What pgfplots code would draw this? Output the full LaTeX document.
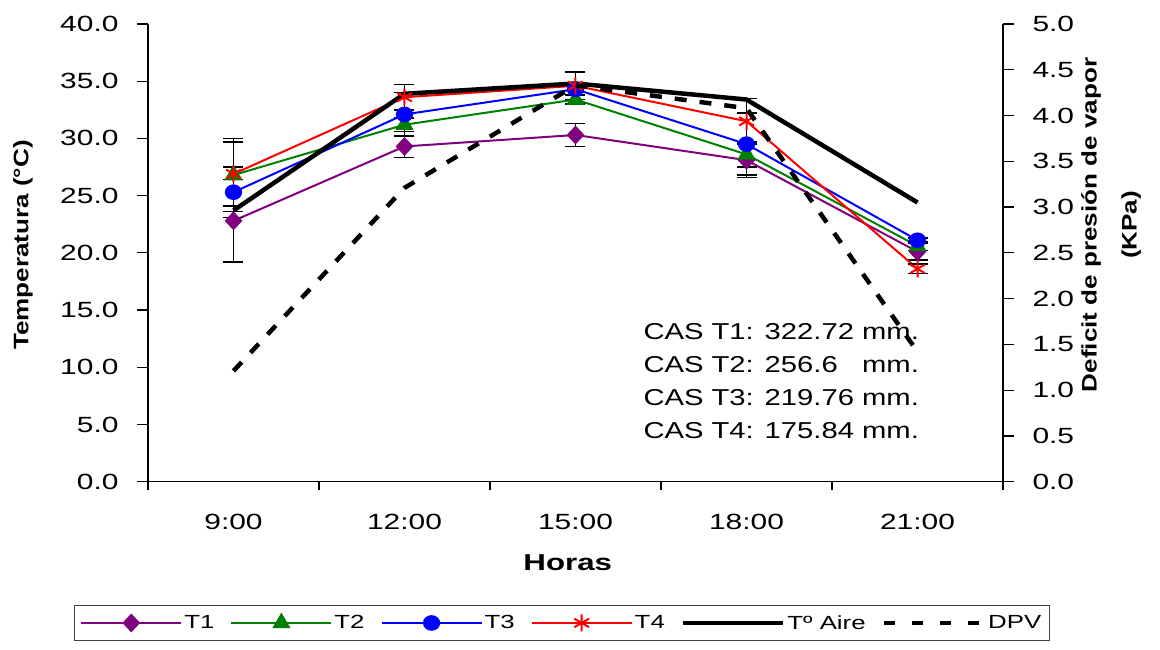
\documentclass[border=0pt]{standalone}
\usepackage{pgfplots}
\pgfplotsset{compat=1.18}
\usepackage{fontspec}
\setmainfont{Liberation Sans}[FakeStretch=1.36]
\newfontfamily\casfont{Liberation Sans}[FakeStretch=1.27]
\newfontfamily\vlabelfont{Liberation Sans}[FakeStretch=1.24]

\definecolor{cT1}{RGB}{128,0,128}
\definecolor{cT2}{RGB}{0,128,0}
\definecolor{cT3}{RGB}{0,0,255}
\definecolor{cT4}{RGB}{255,0,0}

\pgfplotsset{
  base/.style={
    width=855pt, height=457.7pt, scale only axis,
    xmin=0.5, xmax=5.5,
    at={(0pt,0pt)}, anchor=south west,
    tick align=outside,
    /pgf/number format/assume math mode=true,
    ticklabel style={font=\fontsize{22}{26}\selectfont},
    y tick label style={/pgf/number format/fixed, /pgf/number format/fixed zerofill,
      /pgf/number format/precision=1},
    axis line style={line width=1.2pt, black},
    tick style={line width=1.2pt, black},
    major tick length=11pt,
    minor tick length=8pt,
    clip=false,
  },
  errb/.style={
    error bars/y dir=both, error bars/y explicit,
    error bars/error bar style={black, line width=1.6pt, solid},
    error bars/error mark options={black, line width=1.6pt, rotate=90, mark size=10pt, solid},
  },
  s1/.style={cT1, line width=2pt, mark=diamond*, mark size=8pt, mark options={xscale=1.25}},
  s2/.style={cT2, line width=2pt, mark=triangle*, mark size=8.5pt},
  s3/.style={cT3, line width=2pt, mark=*, mark size=6.8pt, mark options={xscale=1.12}},
  s4/.style={cT4, line width=2pt, mark=asterisk, mark size=8.5pt},
  s5/.style={black, line width=4.5pt, mark=none},
  s6/.style={black, line width=4.5pt, dash pattern=on 12pt off 13pt, mark=none},
  wide legend/.style={legend image code/.code={%
    \draw[mark repeat=2, mark phase=2, ##1] plot coordinates {(0pt,0pt) (50pt,0pt) (100pt,0pt)};}},
}

\begin{document}
\begin{tikzpicture}
\useasboundingbox (-148pt,-168.3pt) rectangle (1012pt,481.7pt);

% temperatures, left axis
\begin{axis}[base,
  ymin=0, ymax=40, ytick={0,5,10,15,20,25,30,35,40},
  axis x line*=bottom, axis y line*=left,
  y tick label style={xshift=-15pt},
  xtick={1,2,3,4,5}, xticklabels={9:00,12:00,15:00,18:00,21:00},
  x tick label style={yshift=-18pt},
  major x tick style={draw=none},
  minor xtick={0.5,1.5,2.5,3.5,4.5,5.5},
  xlabel={Horas},
  xlabel style={font=\fontsize{23}{26}\selectfont\bfseries,
    at={(axis description cs:0.491,-0.1776)}, anchor=center},
  ylabel={Temperatura (°C)},
  ylabel style={font=\vlabelfont\fontsize{21}{24}\selectfont\bfseries,
    at={(axis description cs:-0.1462,0.517)}, anchor=center},
]
\addplot[s1, errb] coordinates {
  (1,22.8) +- (0,3.6) (2,29.3) +- (0,0.95) (3,30.3) +- (0,1.0) (4,28.1) +- (0,1.5) (5,20.1) +- (0,0.7)};
\addplot[s2, errb] coordinates {
  (1,26.8) +- (0,3.2) (2,31.2) +- (0,0.6) (3,33.4) +- (0,0.4) (4,28.6) +- (0,1.1) (5,20.6) +- (0,0.4)};
\addplot[s3, errb] coordinates {
  (1,25.3) +- (0,2.2) (2,32.1) +- (0,1.9) (3,34.3) +- (0,0.5) (4,29.5) +- (0,2.7) (5,21.1) +- (0,0.2)};
\addplot[s4, errb] coordinates {
  (1,26.9) +- (0,2.8) (2,33.6) +- (0,1.1) (3,34.6) +- (0,1.2) (4,31.5) +- (0,2.0) (5,18.6) +- (0,0.4)};
\addplot[s5] coordinates {(1,23.7) (2,33.9) (3,34.8) (4,33.4) (5,24.4)};

\node[anchor=base west, font=\casfont\fontsize{23}{26}\selectfont] at (axis cs:3.377,12.47) {CAS T1: 322.72 mm.};
\node[anchor=base west, font=\casfont\fontsize{23}{26}\selectfont] at (axis cs:3.377,9.54) {CAS T2: 256.6\phantom{0} mm.};
\node[anchor=base west, font=\casfont\fontsize{23}{26}\selectfont] at (axis cs:3.377,6.63) {CAS T3: 219.76 mm.};
\node[anchor=base west, font=\casfont\fontsize{23}{26}\selectfont] at (axis cs:3.377,3.78) {CAS T4: 175.84 mm.};
\end{axis}

% vapour pressure deficit, right axis
\begin{axis}[base,
  ymin=0, ymax=5, ytick={0,0.5,1,1.5,2,2.5,3,3.5,4,4.5,5},
  axis y line*=right, axis x line=none,
  y tick label style={xshift=15pt},
  ylabel={Deficit de presión de vapor\\(KPa)},
  ylabel style={font=\vlabelfont\fontsize{21}{40}\selectfont\bfseries,
    at={(axis description cs:1.1263,0.561)}, anchor=center, align=center},
  wide legend,
  legend columns=6,
  legend style={at={(axis description cs:0.484,-0.269)}, anchor=north,
    draw=black!75, line width=1pt, inner xsep=6pt, inner ysep=8pt,
    font=\fontsize{19}{22}\selectfont,
    /tikz/every even column/.append style={column sep=14pt}},
]
\addlegendimage{s1}\addlegendentry{T1}
\addlegendimage{s2}\addlegendentry{T2}
\addlegendimage{s3}\addlegendentry{T3}
\addlegendimage{s4}\addlegendentry{T4}
\addlegendimage{s5}\addlegendentry{Tº Aire}
\addlegendimage{black, line width=4.5pt, dash pattern=on 11pt off 17pt}\addlegendentry{DPV}
\addplot[s6, forget plot] coordinates {(1,1.21) (2,3.21) (3,4.33) (4,4.08) (5,1.42)};
\end{axis}
\end{tikzpicture}
\end{document}
